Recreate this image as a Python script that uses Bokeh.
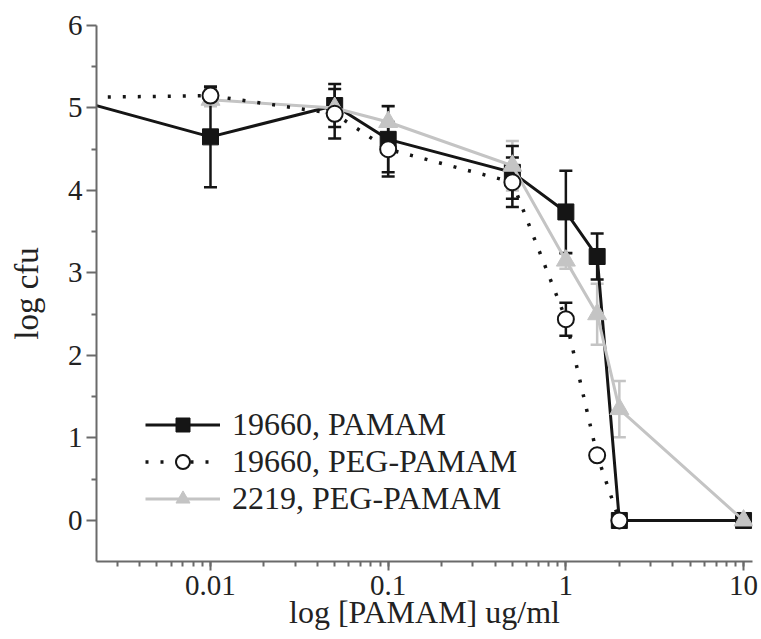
from bokeh.plotting import figure
from bokeh.models import (ColumnDataSource, Whisker, TeeHead, Range1d, FixedTicker,
                          LogTicker, NumeralTickFormatter, Legend, LegendItem)
from bokeh.embed import file_html
from bokeh.resources import INLINE

# ---- data ----
conc_pamam = [0.001, 0.01, 0.05, 0.1, 0.5, 1, 1.5, 2, 10]
cfu_pamam = [5.24, 4.65, 5.03, 4.62, 4.22, 3.74, 3.2, 0, 0]
err_pamam = [0, 0.61, 0.26, 0.4, 0.32, 0.5, 0.28, 0, 0]

conc_peg = [0.001, 0.01, 0.05, 0.1, 0.5, 1, 1.5, 2]
cfu_peg = [5.12, 5.15, 4.93, 4.5, 4.1, 2.44, 0.79, 0]
err_peg = [0, 0.1, 0.3, 0.33, 0.3, 0.2, 0, 0]

conc_2219 = [0.01, 0.05, 0.1, 0.5, 1, 1.5, 2, 10]
cfu_2219 = [5.1, 5.0, 4.83, 4.3, 3.15, 2.5, 1.35, 0]
err_2219 = [0.08, 0.05, 0.2, 0.3, 0.1, 0.37, 0.34, 0]

y_ticks = [0, 1, 2, 3, 4, 5, 6]
y_minor = [0.5, 1.5, 2.5, 3.5, 4.5, 5.5]
labels = ["19660, PAMAM", "19660, PEG-PAMAM", "2219, PEG-PAMAM"]
x_title = "log [PAMAM] ug/ml"
y_title = "log cfu"

FONT = "Liberation Serif"
BLACK = "#151515"
GRAY = "#c4c4c4"
AXIS = "#6a6a6a"
TEXT = "#222222"

X_LO, X_HI = 0.002283, 11.23
Y_LO, Y_HI = -0.497, 6.0

p = figure(width=761, height=639, x_axis_type="log",
           x_range=Range1d(X_LO, X_HI), y_range=Range1d(Y_LO, Y_HI),
           output_backend="svg", toolbar_location=None,
           min_border_left=96, min_border_right=9, min_border_top=25,
           min_border_bottom=78)
p.grid.visible = False
p.outline_line_color = None
p.background_fill_color = "white"


def err_source(xs, ys, es):
    x2, up, lo = [], [], []
    for x, y, e in zip(xs, ys, es):
        if e > 0:
            x2.append(x)
            up.append(y + e)
            lo.append(y - e)
    return ColumnDataSource(dict(x=x2, upper=up, lower=lo))


def add_whisker(src, color):
    w = Whisker(base="x", upper="upper", lower="lower", source=src,
                dimension="height", line_color=color, line_width=2.5,
                upper_head=TeeHead(size=13, line_color=color, line_width=2.5),
                lower_head=TeeHead(size=13, line_color=color, line_width=2.5),
                level="underlay")
    p.add_layout(w)


add_whisker(err_source(conc_2219, cfu_2219, err_2219), GRAY)
add_whisker(err_source(conc_pamam, cfu_pamam, err_pamam), BLACK)
add_whisker(err_source(conc_peg, cfu_peg, err_peg), BLACK)

# black series
l1 = p.line(conc_pamam, cfu_pamam, line_color=BLACK, line_width=3)
m1 = p.scatter(conc_pamam, cfu_pamam, marker="square", size=16,
               fill_color=BLACK, line_color=BLACK)
# gray series
l3 = p.line(conc_2219, cfu_2219, line_color=GRAY, line_width=3)
m3 = p.scatter(conc_2219, cfu_2219, marker="triangle", size=19,
               fill_color=GRAY, line_color=GRAY, line_width=1)
# dotted series
l2 = p.line(conc_peg, cfu_peg, line_color=BLACK, line_width=3.5,
            line_dash="3 12")
m2 = p.scatter(conc_peg, cfu_peg, marker="circle", size=16,
               fill_color="white", line_color=BLACK, line_width=2)

legend = Legend(items=[LegendItem(label=labels[0], renderers=[l1, m1]),
                       LegendItem(label=labels[1], renderers=[l2, m2]),
                       LegendItem(label=labels[2], renderers=[l3, m3])],
                location=(49, 44), orientation="vertical",
                background_fill_alpha=0, border_line_color=None,
                padding=0, margin=0, spacing=0,
                glyph_width=75, glyph_height=35, label_height=35,
                label_standoff=12,
                label_text_font=FONT, label_text_font_size="32px",
                label_text_color=TEXT)
p.add_layout(legend)

# axes
for ax in (p.xaxis, p.yaxis):
    ax.axis_line_color = AXIS
    ax.axis_line_width = 2
    ax.major_tick_line_color = AXIS
    ax.minor_tick_line_color = AXIS
    ax.major_tick_line_width = 2
    ax.minor_tick_line_width = 2
    ax.major_tick_in = 0
    ax.minor_tick_in = 0
    ax.major_label_text_font = FONT
    ax.major_label_text_font_size = "29px"
    ax.major_label_text_color = TEXT
    ax.axis_label_text_font = FONT
    ax.axis_label_text_font_style = "normal"
    ax.axis_label_text_color = TEXT

p.xaxis.ticker = LogTicker(num_minor_ticks=10)
p.xaxis.formatter = NumeralTickFormatter(format="0.[00]")
p.xaxis.major_tick_out = 9
p.xaxis.minor_tick_out = 5
p.xaxis.major_label_standoff = 5
p.xaxis.axis_label = x_title
p.xaxis.axis_label_text_font_size = "32px"
p.xaxis.axis_label_standoff = -4

p.yaxis.ticker = FixedTicker(ticks=y_ticks, minor_ticks=y_minor)
p.yaxis.major_tick_out = 10
p.yaxis.minor_tick_out = 5
p.yaxis.major_label_standoff = 4
p.yaxis.axis_label = y_title
p.yaxis.axis_label_text_font_size = "33px"
p.yaxis.axis_label_standoff = 20

open("out.html", "w").write(file_html(p, INLINE))
